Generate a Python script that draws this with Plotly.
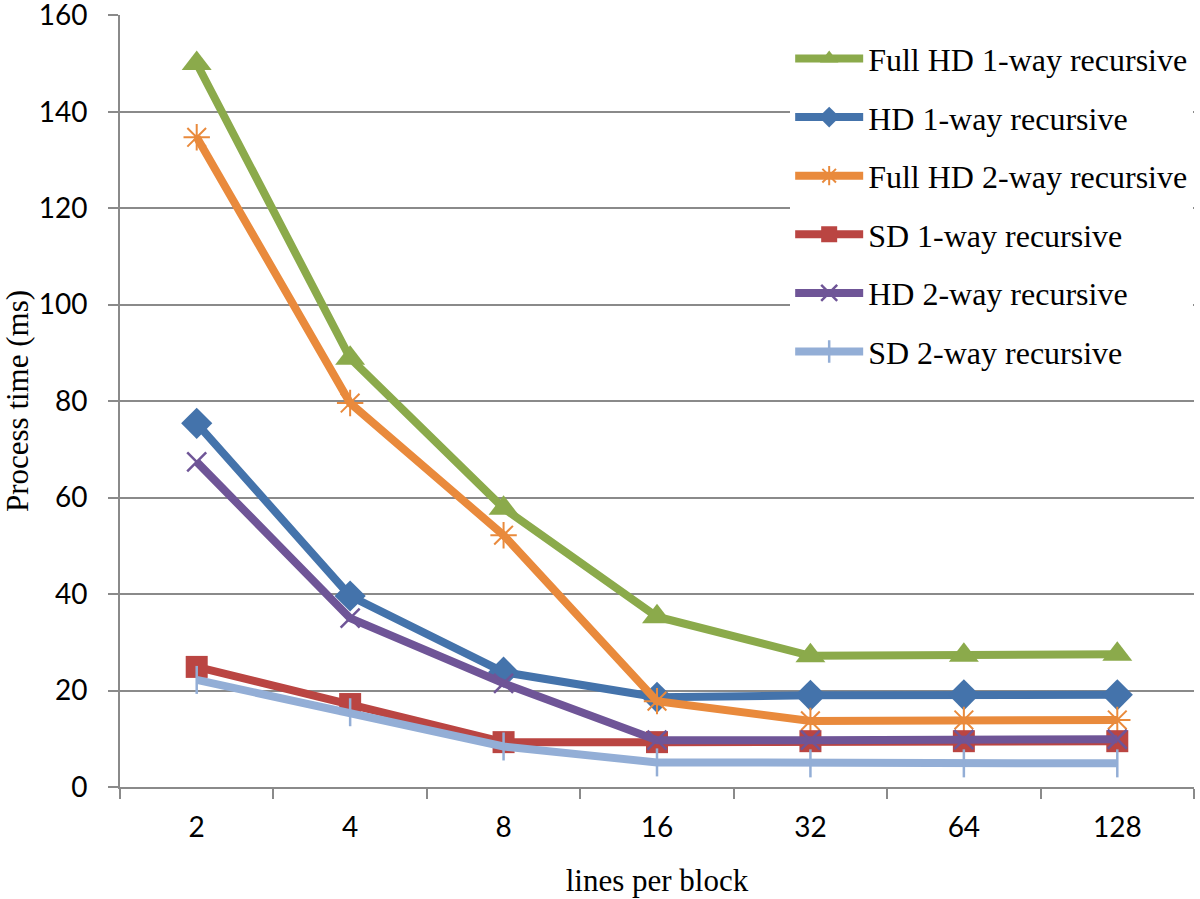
import plotly.graph_objects as go

categories = ["2", "4", "8", "16", "32", "64", "128"]

full_hd_1way = [150.0, 88.9, 57.8, 35.3, 27.2, 27.3, 27.5]
hd_1way = [75.4, 39.6, 23.8, 18.6, 19.0, 19.1, 19.1]
full_hd_2way = [134.7, 79.6, 52.2, 17.8, 13.7, 13.9, 13.9]
sd_1way = [24.9, 17.2, 9.3, 9.3, 9.5, 9.5, 9.5]
hd_2way = [67.4, 35.0, 21.5, 9.7, 9.7, 9.8, 9.9]
sd_2way = [22.2, 15.5, 8.4, 5.1, 4.9, 4.9, 4.9]

series = [
    ("Full HD 1-way recursive", full_hd_1way, "#8BAA4B", "triangle-up", 26, 0),
    ("HD 1-way recursive", hd_1way, "#4473AB", "diamond", 24, 0),
    ("Full HD 2-way recursive", full_hd_2way, "#E98A3C", "asterisk-open", 22, 2),
    ("SD 1-way recursive", sd_1way, "#BA4542", "square", 22, 0),
    ("HD 2-way recursive", hd_2way, "#6F5597", "x-thin-open", 19, 2.5),
    ("SD 2-way recursive", sd_2way, "#93AED6", "line-ns-open", 20, 2.5),
]

fig = go.Figure()
for i, (name, vals, color, sym, size, lw) in enumerate(series):
    fig.add_trace(go.Scatter(
        x=categories, y=vals, name=name, mode="lines+markers",
        legendgroup=f"g{i}",
        line=dict(color=color, width=8),
        marker=dict(symbol=sym, size=size, color=color,
                    line=dict(color=color, width=lw)),
    ))

grid = "#8A8A8A"
fig.update_layout(
    width=1200, height=899,
    margin=dict(l=120, r=6, t=15, b=112),
    paper_bgcolor="white", plot_bgcolor="white",
    showlegend=True,
    legend=dict(
        x=0.624, y=0.979, xanchor="left", yanchor="top",
        bgcolor="white", borderwidth=0,
        font=dict(family="Liberation Serif", size=32, color="black"),
        tracegroupgap=14, itemwidth=68,
    ),
    xaxis=dict(
        type="category", range=[-0.5, 6.5], automargin=False,
        tickson="boundaries", ticks="outside", ticklen=10, tickwidth=2,
        tickcolor=grid, showline=True, linecolor=grid, linewidth=2,
        showgrid=False, zeroline=False,
        tickfont=dict(family="Lato", size=28, color="black"),
        ticklabelstandoff=14,
        title=dict(text="lines per block", standoff=28,
                   font=dict(family="Liberation Serif", size=31, color="black")),
    ),
    yaxis=dict(
        range=[0, 160.05], tick0=0, dtick=20, automargin=False,
        ticks="outside", ticklen=10, tickwidth=2, tickcolor=grid,
        showline=True, linecolor=grid, linewidth=2,
        showgrid=True, gridcolor=grid, gridwidth=2, zeroline=False,
        tickfont=dict(family="Lato", size=28, color="black"),
        ticklabelstandoff=15, ticklabeloverflow="allow",
        title=dict(text="Process time (ms)", standoff=2,
                   font=dict(family="Liberation Serif", size=31, color="black")),
    ),
)

fig.write_html("out.html",
               config={"displayModeBar": False},
               post_script="document.body.style.margin='0';document.body.style.overflow='hidden';")
